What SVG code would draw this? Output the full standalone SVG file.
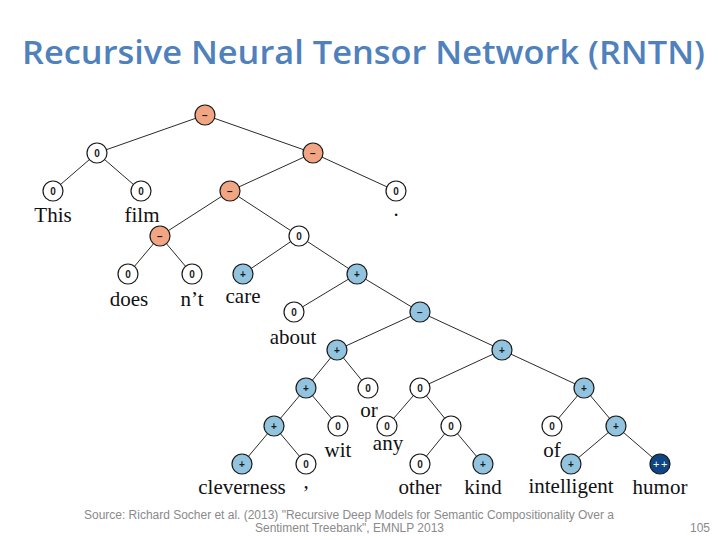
<svg xmlns="http://www.w3.org/2000/svg" width="720" height="540" viewBox="0 0 720 540">
<style>
.e{stroke:#2a2a2a;stroke-width:1;fill:none}
.n circle{stroke:#1a1a1a;stroke-width:1.2}
.z circle{fill:#ffffff}
.m circle{fill:#F2A583}
.p circle{fill:#93C4DF}
.pp circle{fill:#0D4585}
.s{font-family:"Liberation Sans",Arial,sans-serif;font-size:10px;font-weight:bold;text-anchor:middle;fill:#1a1a1a}
.pp .s{fill:#ffffff;font-weight:normal;font-size:11px;letter-spacing:1.5px}
.w{font-family:"Liberation Serif","DejaVu Serif",serif;font-size:21px;text-anchor:middle;fill:#111}
.t{font-family:"Open Sans","Liberation Sans",sans-serif;font-size:33px;font-weight:600;fill:#4F81BD}
.f{font-family:"Liberation Sans",Arial,sans-serif;font-size:12px;fill:#8a8a8a;text-anchor:middle}
</style>
<rect width="720" height="540" fill="#ffffff"/>
<text class="t" x="22" y="64" textLength="683" lengthAdjust="spacingAndGlyphs">Recursive Neural Tensor Network (RNTN)</text>
<g id="connectors">
<path class="e" d="M205,115L97,153M205,115L313,153M97,153L53,191M97,153L141,191M313,153L230,191M313,153L396,191M230,191L160,236M230,191L299,236M160,236L128,274M160,236L192,274M299,236L243,274M299,236L357,274M357,274L294,312M357,274L420,312M420,312L337,350M420,312L502,350M337,350L306,388M337,350L368,388M306,388L274,426M306,388L338,426M274,426L242,464M274,426L306,464M502,350L420,388M502,350L584,388M420,388L387,426M420,388L451,426M451,426L420,464M451,426L483,464M584,388L552,426M584,388L616,426M616,426L571,464M616,426L660,464"/>
</g>
<g id="n1" class="n m"><circle cx="205" cy="115" r="10"/><text class="s" x="205" y="119">−</text></g>
<g id="n2" class="n z"><circle cx="97" cy="153" r="10"/><text class="s" x="97" y="157">0</text></g>
<g id="n3" class="n m"><circle cx="313" cy="153" r="10"/><text class="s" x="313" y="157">−</text></g>
<g id="n4" class="n z"><circle cx="53" cy="191" r="10"/><text class="s" x="53" y="195">0</text><text class="w" x="53" y="222">This</text></g>
<g id="n5" class="n z"><circle cx="141" cy="191" r="10"/><text class="s" x="141" y="195">0</text><text class="w" x="142" y="222">film</text></g>
<g id="n6" class="n m"><circle cx="230" cy="191" r="10"/><text class="s" x="230" y="195">−</text></g>
<g id="n7" class="n z"><circle cx="396" cy="191" r="10"/><text class="s" x="396" y="195">0</text><text class="w" x="396" y="216">.</text></g>
<g id="n8" class="n m"><circle cx="160" cy="236" r="10"/><text class="s" x="160" y="240">−</text></g>
<g id="n9" class="n z"><circle cx="299" cy="236" r="10"/><text class="s" x="299" y="240">0</text></g>
<g id="n10" class="n z"><circle cx="128" cy="274" r="10"/><text class="s" x="128" y="278">0</text><text class="w" x="129" y="306">does</text></g>
<g id="n11" class="n z"><circle cx="192" cy="274" r="10"/><text class="s" x="192" y="278">0</text><text class="w" x="192" y="306">n’t</text></g>
<g id="n12" class="n p"><circle cx="243" cy="274" r="10"/><text class="s" x="243" y="278">+</text><text class="w" x="243" y="303">care</text></g>
<g id="n13" class="n p"><circle cx="357" cy="274" r="10"/><text class="s" x="357" y="278">+</text></g>
<g id="n14" class="n z"><circle cx="294" cy="312" r="10"/><text class="s" x="294" y="316">0</text><text class="w" x="293" y="344">about</text></g>
<g id="n15" class="n p"><circle cx="420" cy="312" r="10"/><text class="s" x="420" y="316">−</text></g>
<g id="n16" class="n p"><circle cx="337" cy="350" r="10"/><text class="s" x="337" y="354">+</text></g>
<g id="n17" class="n p"><circle cx="502" cy="350" r="10"/><text class="s" x="502" y="354">+</text></g>
<g id="n18" class="n p"><circle cx="306" cy="388" r="10"/><text class="s" x="306" y="392">+</text></g>
<g id="n19" class="n z"><circle cx="368" cy="388" r="10"/><text class="s" x="368" y="392">0</text><text class="w" x="369" y="417">or</text></g>
<g id="n20" class="n z"><circle cx="420" cy="388" r="10"/><text class="s" x="420" y="392">0</text></g>
<g id="n21" class="n p"><circle cx="584" cy="388" r="10"/><text class="s" x="584" y="392">+</text></g>
<g id="n22" class="n p"><circle cx="274" cy="426" r="10"/><text class="s" x="274" y="430">+</text></g>
<g id="n23" class="n z"><circle cx="338" cy="426" r="10"/><text class="s" x="338" y="430">0</text><text class="w" x="338" y="457">wit</text></g>
<g id="n24" class="n z"><circle cx="387" cy="426" r="10"/><text class="s" x="387" y="430">0</text><text class="w" x="388" y="450">any</text></g>
<g id="n25" class="n z"><circle cx="451" cy="426" r="10"/><text class="s" x="451" y="430">0</text></g>
<g id="n26" class="n z"><circle cx="552" cy="426" r="10"/><text class="s" x="552" y="430">0</text><text class="w" x="552" y="457">of</text></g>
<g id="n27" class="n p"><circle cx="616" cy="426" r="10"/><text class="s" x="616" y="430">+</text></g>
<g id="n28" class="n p"><circle cx="242" cy="464" r="10"/><text class="s" x="242" y="468">+</text><text class="w" x="242" y="494">cleverness</text></g>
<g id="n29" class="n z"><circle cx="306" cy="464" r="10"/><text class="s" x="306" y="468">0</text><text class="w" x="306" y="488">,</text></g>
<g id="n30" class="n z"><circle cx="420" cy="464" r="10"/><text class="s" x="420" y="468">0</text><text class="w" x="420" y="494">other</text></g>
<g id="n31" class="n p"><circle cx="483" cy="464" r="10"/><text class="s" x="483" y="468">+</text><text class="w" x="483" y="494">kind</text></g>
<g id="n32" class="n p"><circle cx="571" cy="464" r="10"/><text class="s" x="571" y="468">+</text><text class="w" x="571" y="493">intelligent</text></g>
<g id="n33" class="n pp"><circle cx="660" cy="464" r="10"/><text class="s" x="661" y="468">++</text><text class="w" x="660" y="494">humor</text></g>
<text class="f" x="349" y="519" textLength="530" lengthAdjust="spacingAndGlyphs">Source: Richard Socher et al. (2013) "Recursive Deep Models for Semantic Compositionality Over a</text>
<text class="f" x="349.5" y="532" textLength="189" lengthAdjust="spacingAndGlyphs">Sentiment Treebank", EMNLP 2013</text>
<text class="f" x="700" y="532">105</text>
</svg>
